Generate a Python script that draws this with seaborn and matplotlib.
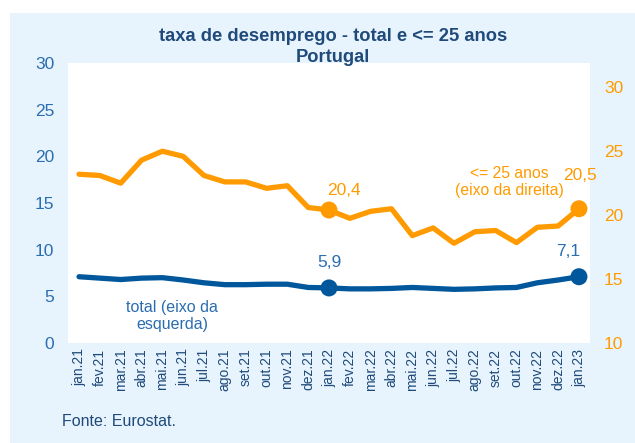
import pandas as pd
import matplotlib
matplotlib.use('Agg')
import matplotlib.pyplot as plt
import seaborn as sns
from matplotlib.patches import Rectangle

# --- DADOS ---
meses = ['jan.21', 'fev.21', 'mar.21', 'abr.21', 'mai.21', 'jun.21', 'jul.21',
         'ago.21', 'set.21', 'out.21', 'nov.21', 'dez.21', 'jan.22', 'fev.22',
         'mar.22', 'abr.22', 'mai.22', 'jun.22', 'jul.22', 'ago.22', 'set.22',
         'out.22', 'nov.22', 'dez.22', 'jan.23']
total = [7.1, 6.95, 6.8, 6.95, 7.0, 6.75, 6.45, 6.25, 6.25, 6.3, 6.3, 5.95, 5.9,
         5.8, 5.8, 5.85, 5.95, 5.85, 5.75, 5.8, 5.9, 5.95, 6.45, 6.75, 7.1]
jovens = [23.2, 23.1, 22.5, 24.3, 25.0, 24.6, 23.1, 22.6, 22.6, 22.1, 22.3, 20.6, 20.4,
          19.75, 20.3, 20.5, 18.4, 19.0, 17.8, 18.7, 18.8, 17.85, 19.05, 19.15, 20.5]
destaques = ['jan.22', 'jan.23']

AZUL = '#00579c'
AZUL_TXT = '#2a6db0'
NAVY = '#1f4a7a'
LARANJA = '#ff9b00'
FUNDO = '#e8f4fd'

df = pd.DataFrame({'mes': meses, 'total': total, 'jovens': jovens})
df['x'] = range(len(df))
df_dest = df[df['mes'].isin(destaques)]

sns.set_theme(style="white")
plt.rcParams['font.family'] = ['Liberation Sans', 'DejaVu Sans']

fig = plt.figure(figsize=(6.35, 4.43), dpi=100)
fig.patches.append(Rectangle((10 / 635, 0), 1, 430 / 443, transform=fig.transFigure,
                             facecolor=FUNDO, edgecolor='none', zorder=-10))

ax = fig.add_axes([68 / 635, 100 / 443, 522 / 635, 280 / 443])
ax.set_facecolor('white')
ax2 = ax.twinx()

sns.lineplot(data=df, x='x', y='total', ax=ax, color=AZUL, linewidth=3.8)
sns.scatterplot(data=df_dest, x='x', y='total', ax=ax, color=AZUL, s=150,
                edgecolor='none', zorder=5)
sns.lineplot(data=df, x='x', y='jovens', ax=ax2, color=LARANJA, linewidth=3.8)
sns.scatterplot(data=df_dest, x='x', y='jovens', ax=ax2, color=LARANJA, s=150,
                edgecolor='none', zorder=5)

ax.set_xlim(-0.53, len(meses) - 0.47)
ax.set_ylim(0, 30)
ax2.set_ylim(10, 31.9)
ax.set_yticks([0, 5, 10, 15, 20, 25, 30])
ax2.set_yticks([10, 15, 20, 25, 30])
ax.set_xticks(df['x'])
ax.set_xticklabels(meses, rotation=90, fontsize=10, color=NAVY)
ax.tick_params(axis='y', labelsize=12.5, labelcolor=AZUL_TXT, length=0, pad=10)
ax.tick_params(axis='x', length=0, pad=4)
ax2.tick_params(axis='y', labelsize=12.5, labelcolor=LARANJA, length=0, pad=10)
for a in (ax, ax2):
    a.set_xlabel('')
    a.set_ylabel('')
    for s in a.spines.values():
        s.set_visible(False)
ax.set_zorder(ax2.get_zorder() - 1)
ax2.patch.set_visible(False)
ax.patch.set_visible(True)

# Rótulos dos valores destacados (deslocamentos em pontos)
off_total = {'jan.22': (0, 15), 'jan.23': (-8, 15)}
off_jovens = {'jan.22': (11, 11), 'jan.23': (1, 21)}
for _, r in df_dest.iterrows():
    ax.annotate(f"{r['total']:.1f}".replace('.', ','), (r['x'], r['total']),
                xytext=off_total[r['mes']], textcoords='offset points', ha='center',
                fontsize=12.5, color=AZUL_TXT)
    ax2.annotate(f"{r['jovens']:.1f}".replace('.', ','), (r['x'], r['jovens']),
                 xytext=off_jovens[r['mes']], textcoords='offset points',
                 ha='center', fontsize=12.5, color=LARANJA)

fig.text(172 / 635, 1 - 316 / 443, 'total (eixo da\nesquerda)', ha='center', va='center',
         fontsize=11.5, color=AZUL_TXT, linespacing=1.12)
fig.text(509 / 635, 1 - 182 / 443, '<= 25 anos\n(eixo da direita)', ha='center',
         va='center', fontsize=11.3, color=LARANJA, linespacing=1.15)

fig.text(333 / 635, 1 - 47 / 443, 'taxa de desemprego - total e <= 25 anos\nPortugal',
         ha='center', va='center', fontsize=13.2, fontweight='bold', color=NAVY,
         linespacing=1.3)
fig.text(62 / 635, 1 - 422 / 443, 'Fonte: Eurostat.', ha='left', va='center',
         fontsize=11.5, color=NAVY)

fig.savefig('out.png', dpi=100, facecolor='white')
